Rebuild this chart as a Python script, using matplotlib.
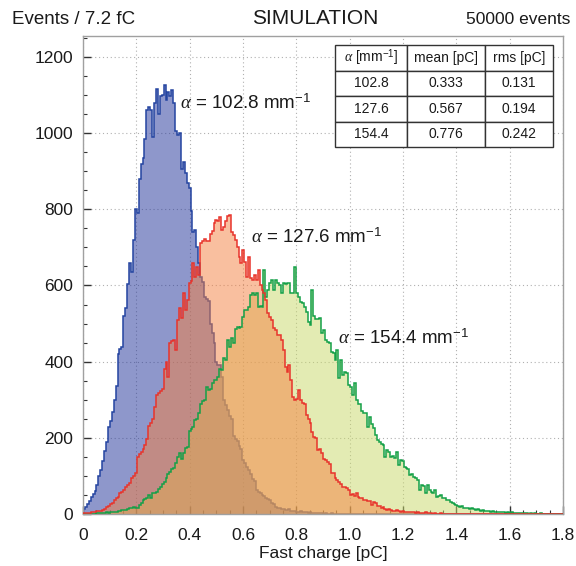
import numpy as np
import matplotlib
matplotlib.use("Agg")
import matplotlib.pyplot as plt
from matplotlib.ticker import MultipleLocator, FixedLocator, FixedFormatter

plt.rcParams['font.family'] = ['Liberation Sans', 'DejaVu Sans']
plt.rcParams['mathtext.fontset'] = 'custom'
plt.rcParams['mathtext.rm'] = 'Liberation Sans'
plt.rcParams['mathtext.it'] = 'Liberation Serif:italic'
plt.rcParams['mathtext.bf'] = 'Liberation Sans:bold'

# ---------------- data ----------------
bin_width = 0.0072          # pC  (7.2 fC)
n_bins = 250                # 0 .. 1.8 pC

alphas = ["102.8", "127.6", "154.4"]
means = ["0.333", "0.567", "0.776"]
rmss = ["0.131", "0.194", "0.242"]

blue_counts = [
    12, 18, 25, 35, 45, 52, 60, 75, 100, 115,
    140, 165, 190, 228, 245, 268, 300, 335, 420, 432,
    438, 520, 540, 605, 660, 635, 720, 800, 790, 880,
    920, 935, 985, 1060, 1068, 1062, 990, 1078, 1115, 1050,
    1098, 1100, 1126, 1088, 1108, 1098, 1112, 1078, 1005, 995,
    1000, 905, 925, 895, 870, 855, 795, 740, 745, 700,
    660, 622, 610, 570, 565, 560, 498, 476, 450, 398,
    392, 390, 360, 300, 285, 272, 258, 250, 205, 198,
    192, 178, 170, 142, 135, 124, 115, 106, 92, 86,
    64, 58, 54, 50, 47, 42, 40, 36, 30, 26,
    18, 16, 17, 13, 14, 11, 10, 12, 8, 9,
    7, 6, 5, 7, 4, 5, 4, 3, 4, 3,
    2, 3, 2, 2, 3, 1, 2, 1, 1, 2,
    1, 1, 0, 1, 1, 0, 1, 0, 0, 1,
    0, 0, 0, 0, 0, 0, 0, 0, 0, 0,
    0, 0, 0, 0, 0, 0, 0, 0, 0, 0,
    0, 0, 0, 0, 0, 0, 0, 0, 0, 0,
    0, 0, 0, 0, 0, 0, 0, 0, 0, 0,
    0, 0, 0, 0, 0, 0, 0, 0, 0, 0,
    0, 0, 0, 0, 0, 0, 0, 0, 0, 0,
    0, 0, 0, 0, 0, 0, 0, 0, 0, 0,
    0, 0, 0, 0, 0, 0, 0, 0, 0, 0,
    0, 0, 0, 0, 0, 0, 0, 0, 0, 0,
    0, 0, 0, 0, 0, 0, 0, 0, 0, 0,
    0, 0, 0, 0, 0, 0, 0, 0, 0, 0,
]

red_counts = [
    2, 2, 3, 3, 4, 5, 5, 7, 8, 9,
    10, 14, 18, 22, 27, 30, 38, 42, 45, 54,
    58, 62, 70, 76, 82, 94, 100, 107, 150, 158,
    162, 170, 180, 198, 230, 240, 250, 282, 312, 318,
    322, 328, 380, 398, 360, 450, 455, 456, 430, 510,
    540, 515, 580, 535, 562, 606, 612, 660, 622, 648,
    628, 712, 718, 722, 717, 718, 735, 742, 765, 772,
    770, 780, 745, 754, 768, 782, 786, 741, 732, 720,
    702, 675, 658, 693, 662, 622, 675, 620, 614, 628,
    614, 640, 600, 588, 580, 562, 527, 516, 510, 488,
    484, 470, 470, 457, 430, 386, 372, 391, 352, 307,
    299, 302, 325, 299, 292, 290, 260, 250, 238, 215,
    202, 199, 168, 170, 159, 145, 141, 137, 130, 107,
    108, 95, 89, 84, 80, 71, 70, 67, 62, 50,
    52, 48, 54, 45, 41, 42, 37, 38, 35, 33,
    24, 32, 28, 22, 20, 16, 18, 14, 11, 13,
    10, 9, 8, 10, 7, 6, 8, 5, 6, 5,
    4, 6, 4, 3, 4, 3, 3, 2, 4, 2,
    2, 2, 1, 2, 1, 1, 2, 1, 0, 1,
    1, 1, 0, 1, 0, 0, 1, 0, 0, 1,
    0, 0, 0, 1, 0, 0, 0, 0, 0, 0,
    0, 0, 0, 0, 0, 0, 0, 0, 0, 0,
    0, 0, 0, 0, 0, 0, 0, 0, 0, 0,
    0, 0, 0, 0, 0, 0, 0, 0, 0, 0,
    0, 0, 0, 0, 0, 0, 0, 0, 0, 0,
]

green_counts = [
    0, 0, 1, 0, 1, 1, 1, 2, 2, 2,
    3, 3, 4, 3, 5, 4, 6, 6, 8, 7,
    10, 11, 10, 13, 15, 17, 19, 15, 16, 24,
    30, 37, 40, 42, 50, 41, 54, 55, 58, 65,
    71, 80, 85, 94, 105, 110, 118, 122, 133, 150,
    159, 145, 159, 172, 175, 218, 222, 229, 246, 250,
    264, 290, 296, 299, 333, 326, 328, 343, 352, 352,
    360, 382, 378, 409, 405, 456, 438, 461, 448, 487,
    491, 488, 492, 517, 535, 535, 543, 575, 579, 576,
    579, 543, 545, 543, 640, 570, 588, 606, 614, 588,
    614, 606, 601, 579, 606, 604, 606, 606, 579, 580,
    648, 579, 570, 556, 553, 543, 530, 504, 496, 588,
    520, 512, 512, 515, 475, 482, 457, 451, 448, 425,
    422, 404, 430, 356, 404, 365, 372, 369, 339, 333,
    312, 343, 299, 290, 288, 270, 264, 266, 228, 255,
    235, 225, 207, 194, 189, 185, 181, 150, 168, 164,
    150, 152, 148, 164, 129, 141, 140, 124, 120, 118,
    102, 104, 98, 94, 90, 63, 76, 74, 54, 76,
    63, 58, 54, 63, 45, 46, 49, 43, 41, 37,
    38, 32, 30, 26, 24, 22, 19, 20, 17, 15,
    16, 14, 15, 12, 11, 12, 10, 9, 10, 8,
    9, 7, 6, 7, 5, 6, 5, 4, 5, 4,
    3, 4, 3, 4, 3, 2, 3, 2, 3, 2,
    2, 2, 1, 2, 1, 2, 1, 1, 2, 1,
    1, 0, 1, 1, 0, 1, 0, 1, 1, 0,
]

x_tick_values = [0, 0.2, 0.4, 0.6, 0.8, 1.0, 1.2, 1.4, 1.6, 1.8]
x_tick_labels = ["0", "0.2", "0.4", "0.6", "0.8", "1.0", "1.2", "1.4", "1.6", "1.8"]
y_tick_values = [0, 200, 400, 600, 800, 1000, 1200]
y_tick_labels = ["0", "200", "400", "600", "800", "1000", "1200"]

# ---------------- figure ----------------
W, H = 576, 566
fig = plt.figure(figsize=(W / 100, H / 100), dpi=100)
ax = fig.add_axes([83 / W, (H - 514) / H, 480 / W, 478 / H])

edges = np.arange(n_bins + 1) * bin_width

# fills: blue, green, red (red fill lies over green); blue outline under the others
ax.stairs(blue_counts, edges, fill=True, color='#1f3199', alpha=0.5, lw=0, zorder=2)
ax.stairs(blue_counts, edges, fill=False, color='#2444a0', lw=1.1, zorder=2)
ax.stairs(green_counts, edges, fill=True, color='#c9d969', alpha=0.5, lw=0, zorder=2)
ax.stairs(red_counts, edges, fill=True, color='#f58040', alpha=0.5, lw=0, zorder=2)
ax.stairs(green_counts, edges, fill=False, color='#14a048', lw=1.1, zorder=3)
ax.stairs(red_counts, edges, fill=False, color='#e8342c', lw=1.1, zorder=3)

ax.set_xlim(0, 1.8)
ax.set_ylim(0, 1255)

ax.xaxis.set_major_locator(FixedLocator(x_tick_values))
ax.xaxis.set_major_formatter(FixedFormatter(x_tick_labels))
ax.xaxis.set_minor_locator(MultipleLocator(0.05))
ax.yaxis.set_major_locator(FixedLocator(y_tick_values))
ax.yaxis.set_major_formatter(FixedFormatter(y_tick_labels))
ax.yaxis.set_minor_locator(MultipleLocator(50))

ax.tick_params(which='both', direction='in', colors='#333333', labelcolor='#1a1a1a',
               labelsize=12.5, top=False, right=False)
ax.tick_params(which='major', length=6, width=1.0)
ax.tick_params(axis='x', which='major', pad=10)
ax.tick_params(axis='y', which='major', pad=7)
ax.tick_params(which='minor', length=3, width=0.8)

for s in ax.spines.values():
    s.set_color('#a0a0a0')
    s.set_linewidth(1.0)

ax.grid(True, which='major', color='#b0b0b0', linestyle=(0, (1, 2.5)), lw=0.8, zorder=1)
ax.set_axisbelow(True)

ax.set_xlabel("Fast charge [pC]", fontsize=12.5, color='#1a1a1a', labelpad=2)

# annotations
ann_pos = [(0.364, 1079), (0.630, 727), (0.957, 462)]
for a, (xp, yp) in zip(alphas, ann_pos):
    ax.text(xp, yp, r"$\alpha$ = %s mm$^{-1}$" % a, fontsize=13.5,
            va='center', ha='left', color='#1a1a1a', zorder=5)

# table
header = [r"$\alpha$ [mm$^{-1}$]", "mean [pC]", "rms [pC]"]
rows = [[a, m, r] for a, m, r in zip(alphas, means, rmss)]
x0 = (335 - 83) / 480
x1 = (553 - 83) / 480
y1 = (514 - 45) / 478
y0 = (514 - 147) / 478
tab = ax.table(cellText=rows, colLabels=header, cellLoc='center',
               colWidths=[72, 78, 68], bbox=[x0, y0, x1 - x0, y1 - y0], zorder=6)
tab.auto_set_font_size(False)
tab.set_fontsize(10)
for (r, c), cell in tab.get_celld().items():
    cell.set_edgecolor('#333333')
    cell.set_linewidth(1.0)
    cell.set_facecolor('white')
    cell.get_text().set_color('#1a1a1a')

# top texts
fig.text(12 / W, 1 - 20 / H, "Events / 7.2 fC", fontsize=13.5, ha='left', va='center', color='#1a1a1a')
fig.text(315 / W, 1 - 18 / H, "SIMULATION", fontsize=15, ha='center', va='center', color='#1a1a1a')
fig.text(570 / W, 1 - 20 / H, "50000 events", fontsize=12.5, ha='right', va='center', color='#1a1a1a')

fig.savefig("out.png", dpi=100, facecolor='white')
